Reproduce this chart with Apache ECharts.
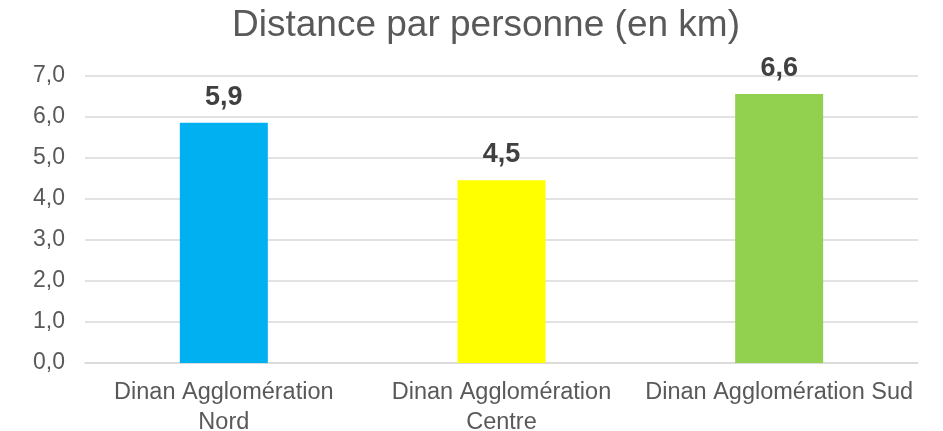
<!DOCTYPE html>
<html>
<head>
<meta charset="utf-8">
<script src="https://cdn.jsdelivr.net/npm/echarts@6/dist/echarts.min.js"></script>
<style>
html, body { margin: 0; padding: 0; background: #fff; }
#chart { width: 943px; height: 431px; }
</style>
</head>
<body>
<div id="chart"></div>
<script>
var categories = ['Dinan Agglomération Nord', 'Dinan Agglomération Centre', 'Dinan Agglomération Sud'];
var distances = [5.86, 4.46, 6.56];
var barColors = ['#00B0F0', '#FFFF00', '#92D050'];
var yTicks = { min: 0, max: 7, interval: 1 };

function frNum(v) {
    return v.toFixed(1).replace('.', ',');
}

var myChart = echarts.init(document.getElementById('chart'));
var option = {
    animation: false,
    title: {
        text: 'Distance par personne (en km)',
        left: 227,
        top: 2,
        textStyle: {
            fontFamily: 'Liberation Sans, Arial, sans-serif',
            fontSize: 37,
            fontWeight: 'normal',
            color: '#595959'
        }
    },
    grid: {
        left: 85,
        right: 25,
        top: 76,
        bottom: 68,
        containLabel: false,
        outerBoundsMode: 'none'
    },
    xAxis: {
        type: 'category',
        data: categories,
        axisLine: { show: true, lineStyle: { color: '#D9D9D9', width: 1.5 } },
        axisTick: { show: false },
        axisLabel: {
            interval: 0,
            margin: 15,
            lineHeight: 30,
            fontFamily: 'Liberation Sans, Arial, sans-serif',
            fontSize: 23.5,
            color: '#595959',
            // wrap the last word like the spreadsheet does when the label is wider than its slot
            formatter: function (v) {
                return v.length > 23 ? v.replace(/ (\S+)$/, '\n$1') : v;
            }
        }
    },
    yAxis: {
        type: 'value',
        min: yTicks.min,
        max: yTicks.max,
        interval: yTicks.interval,
        axisLine: { show: false },
        axisTick: { show: false },
        splitLine: { lineStyle: { color: '#D9D9D9', width: 1.5 } },
        axisLabel: {
            margin: 20,
            fontFamily: 'Liberation Sans, Arial, sans-serif',
            fontSize: 23,
            color: '#595959',
            formatter: function (v) { return frNum(v); }
        }
    },
    series: [
        {
            type: 'bar',
            barWidth: 88,
            data: distances.map(function (v, i) {
                return { value: v, itemStyle: { color: barColors[i] } };
            }),
            label: {
                show: true,
                position: 'top',
                distance: 12,
                fontFamily: 'Liberation Sans, Arial, sans-serif',
                fontSize: 27,
                fontWeight: 'bold',
                color: '#404040',
                formatter: function (p) { return frNum(p.value); }
            }
        }
    ]
};
myChart.setOption(option, true);
</script>
</body>
</html>
